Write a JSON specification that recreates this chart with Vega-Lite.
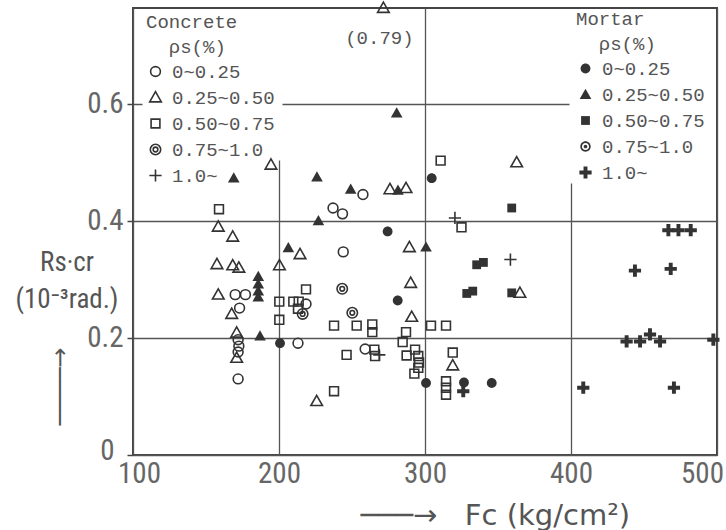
{
  "$schema": "https://vega.github.io/schema/vega-lite/v6.json",
  "width": 584,
  "height": 447,
  "autosize": "none",
  "padding": {"left": 133, "top": 8, "right": 9, "bottom": 75},
  "background": "white",
  "config": {
    "view": {"stroke": "#444", "strokeWidth": 2},
    "axis": {"labelFont": "Liberation Sans Narrow, Roboto Condensed, DejaVu Sans Condensed, sans-serif", "labelFontSize": 29, "labelColor": "#666", "titleFont": "DejaVu Sans", "titleColor": "#555", "titleFontWeight": "normal", "domain": false, "grid": true, "gridColor": "#555", "gridWidth": 1.3}
  },
  "title": {
    "text": ["Rs·cr", "(10⁻³rad.)"],
    "orient": "top",
    "anchor": "start",
    "frame": "group",
    "offset": 0,
    "dx": -66,
    "dy": 328,
    "align": "center",
    "baseline": "middle",
    "lineHeight": 37,
    "font": "Liberation Sans Narrow, Roboto Condensed, DejaVu Sans Condensed, sans-serif",
    "fontSize": 27,
    "fontWeight": "normal",
    "color": "#555"
  },
  "datasets": {
    "pts": [
      {"fc": 170, "r": 0.274, "t": "C", "rho": "0~0.25"},
      {"fc": 177, "r": 0.274, "t": "C", "rho": "0~0.25"},
      {"fc": 173, "r": 0.251, "t": "C", "rho": "0~0.25"},
      {"fc": 172, "r": 0.197, "t": "C", "rho": "0~0.25"},
      {"fc": 172.5, "r": 0.186, "t": "C", "rho": "0~0.25"},
      {"fc": 172, "r": 0.176, "t": "C", "rho": "0~0.25"},
      {"fc": 172, "r": 0.13, "t": "C", "rho": "0~0.25"},
      {"fc": 213, "r": 0.191, "t": "C", "rho": "0~0.25"},
      {"fc": 218.5, "r": 0.258, "t": "C", "rho": "0~0.25"},
      {"fc": 237, "r": 0.422, "t": "C", "rho": "0~0.25"},
      {"fc": 243.5, "r": 0.412, "t": "C", "rho": "0~0.25"},
      {"fc": 257.5, "r": 0.445, "t": "C", "rho": "0~0.25"},
      {"fc": 244, "r": 0.347, "t": "C", "rho": "0~0.25"},
      {"fc": 259, "r": 0.181, "t": "C", "rho": "0~0.25"},
      {"fc": 194.5, "r": 0.496, "t": "C", "rho": "0.25~0.50"},
      {"fc": 158.4, "r": 0.39, "t": "C", "rho": "0.25~0.50"},
      {"fc": 168.3, "r": 0.373, "t": "C", "rho": "0.25~0.50"},
      {"fc": 214.4, "r": 0.343, "t": "C", "rho": "0.25~0.50"},
      {"fc": 200.3, "r": 0.324, "t": "C", "rho": "0.25~0.50"},
      {"fc": 157.5, "r": 0.326, "t": "C", "rho": "0.25~0.50"},
      {"fc": 168.3, "r": 0.324, "t": "C", "rho": "0.25~0.50"},
      {"fc": 172.5, "r": 0.32, "t": "C", "rho": "0.25~0.50"},
      {"fc": 158.4, "r": 0.274, "t": "C", "rho": "0.25~0.50"},
      {"fc": 167.6, "r": 0.241, "t": "C", "rho": "0.25~0.50"},
      {"fc": 171, "r": 0.209, "t": "C", "rho": "0.25~0.50"},
      {"fc": 171, "r": 0.166, "t": "C", "rho": "0.25~0.50"},
      {"fc": 225.8, "r": 0.092, "t": "C", "rho": "0.25~0.50"},
      {"fc": 276, "r": 0.454, "t": "C", "rho": "0.25~0.50"},
      {"fc": 287, "r": 0.456, "t": "C", "rho": "0.25~0.50"},
      {"fc": 289.3, "r": 0.355, "t": "C", "rho": "0.25~0.50"},
      {"fc": 290.2, "r": 0.294, "t": "C", "rho": "0.25~0.50"},
      {"fc": 290.9, "r": 0.236, "t": "C", "rho": "0.25~0.50"},
      {"fc": 319, "r": 0.153, "t": "C", "rho": "0.25~0.50"},
      {"fc": 362.8, "r": 0.5, "t": "C", "rho": "0.25~0.50"},
      {"fc": 365, "r": 0.277, "t": "C", "rho": "0.25~0.50"},
      {"fc": 271.5, "r": 0.79, "t": "C", "rho": "0.25~0.50", "note": "(0.79)"},
      {"fc": 158.9, "r": 0.42, "t": "C", "rho": "0.50~0.75"},
      {"fc": 200.2, "r": 0.262, "t": "C", "rho": "0.50~0.75"},
      {"fc": 200.2, "r": 0.231, "t": "C", "rho": "0.50~0.75"},
      {"fc": 209.8, "r": 0.262, "t": "C", "rho": "0.50~0.75"},
      {"fc": 213.5, "r": 0.262, "t": "C", "rho": "0.50~0.75"},
      {"fc": 213, "r": 0.25, "t": "C", "rho": "0.50~0.75"},
      {"fc": 218.5, "r": 0.283, "t": "C", "rho": "0.50~0.75"},
      {"fc": 310.7, "r": 0.503, "t": "C", "rho": "0.50~0.75"},
      {"fc": 325, "r": 0.389, "t": "C", "rho": "0.50~0.75"},
      {"fc": 237.7, "r": 0.221, "t": "C", "rho": "0.50~0.75"},
      {"fc": 253.2, "r": 0.221, "t": "C", "rho": "0.50~0.75"},
      {"fc": 263.9, "r": 0.223, "t": "C", "rho": "0.50~0.75"},
      {"fc": 263.9, "r": 0.21, "t": "C", "rho": "0.50~0.75"},
      {"fc": 287, "r": 0.21, "t": "C", "rho": "0.50~0.75"},
      {"fc": 304.1, "r": 0.221, "t": "C", "rho": "0.50~0.75"},
      {"fc": 314.4, "r": 0.221, "t": "C", "rho": "0.50~0.75"},
      {"fc": 284.7, "r": 0.193, "t": "C", "rho": "0.50~0.75"},
      {"fc": 246.3, "r": 0.171, "t": "C", "rho": "0.50~0.75"},
      {"fc": 265.3, "r": 0.18, "t": "C", "rho": "0.50~0.75"},
      {"fc": 265.8, "r": 0.169, "t": "C", "rho": "0.50~0.75"},
      {"fc": 287.4, "r": 0.17, "t": "C", "rho": "0.50~0.75"},
      {"fc": 293.2, "r": 0.18, "t": "C", "rho": "0.50~0.75"},
      {"fc": 295.4, "r": 0.169, "t": "C", "rho": "0.50~0.75"},
      {"fc": 295.9, "r": 0.158, "t": "C", "rho": "0.50~0.75"},
      {"fc": 295.4, "r": 0.149, "t": "C", "rho": "0.50~0.75"},
      {"fc": 292.7, "r": 0.139, "t": "C", "rho": "0.50~0.75"},
      {"fc": 319, "r": 0.175, "t": "C", "rho": "0.50~0.75"},
      {"fc": 314.4, "r": 0.126, "t": "C", "rho": "0.50~0.75"},
      {"fc": 314.4, "r": 0.115, "t": "C", "rho": "0.50~0.75"},
      {"fc": 314.4, "r": 0.103, "t": "C", "rho": "0.50~0.75"},
      {"fc": 237.7, "r": 0.109, "t": "C", "rho": "0.50~0.75"},
      {"fc": 216.2, "r": 0.241, "t": "C", "rho": "0.75~1.0"},
      {"fc": 243.3, "r": 0.284, "t": "C", "rho": "0.75~1.0"},
      {"fc": 250.2, "r": 0.243, "t": "C", "rho": "0.75~1.0"},
      {"fc": 320.5, "r": 0.405, "t": "C", "rho": "1.0~"},
      {"fc": 268.7, "r": 0.171, "t": "C", "rho": "1.0~"},
      {"fc": 358.5, "r": 0.334, "t": "C", "rho": "1.0~"},
      {"fc": 200.7, "r": 0.191, "t": "M", "rho": "0~0.25"},
      {"fc": 304.6, "r": 0.473, "t": "M", "rho": "0~0.25"},
      {"fc": 274.4, "r": 0.382, "t": "M", "rho": "0~0.25"},
      {"fc": 281.3, "r": 0.264, "t": "M", "rho": "0~0.25"},
      {"fc": 300.7, "r": 0.123, "t": "M", "rho": "0~0.25"},
      {"fc": 326.7, "r": 0.124, "t": "M", "rho": "0~0.25"},
      {"fc": 345.7, "r": 0.123, "t": "M", "rho": "0~0.25"},
      {"fc": 169, "r": 0.473, "t": "M", "rho": "0.25~0.50"},
      {"fc": 226, "r": 0.475, "t": "M", "rho": "0.25~0.50"},
      {"fc": 227, "r": 0.4, "t": "M", "rho": "0.25~0.50"},
      {"fc": 206.4, "r": 0.354, "t": "M", "rho": "0.25~0.50"},
      {"fc": 185.8, "r": 0.305, "t": "M", "rho": "0.25~0.50"},
      {"fc": 185.8, "r": 0.292, "t": "M", "rho": "0.25~0.50"},
      {"fc": 185.8, "r": 0.28, "t": "M", "rho": "0.25~0.50"},
      {"fc": 185.8, "r": 0.27, "t": "M", "rho": "0.25~0.50"},
      {"fc": 187, "r": 0.203, "t": "M", "rho": "0.25~0.50"},
      {"fc": 280.6, "r": 0.584, "t": "M", "rho": "0.25~0.50"},
      {"fc": 249.1, "r": 0.454, "t": "M", "rho": "0.25~0.50"},
      {"fc": 281.5, "r": 0.452, "t": "M", "rho": "0.25~0.50"},
      {"fc": 300.7, "r": 0.355, "t": "M", "rho": "0.25~0.50"},
      {"fc": 359.4, "r": 0.422, "t": "M", "rho": "0.50~0.75"},
      {"fc": 335.4, "r": 0.325, "t": "M", "rho": "0.50~0.75"},
      {"fc": 340, "r": 0.329, "t": "M", "rho": "0.50~0.75"},
      {"fc": 328.6, "r": 0.276, "t": "M", "rho": "0.50~0.75"},
      {"fc": 332.7, "r": 0.28, "t": "M", "rho": "0.50~0.75"},
      {"fc": 359.4, "r": 0.277, "t": "M", "rho": "0.50~0.75"},
      {"fc": 466.7, "r": 0.384, "t": "M", "rho": "1.0~"},
      {"fc": 473.6, "r": 0.384, "t": "M", "rho": "1.0~"},
      {"fc": 482, "r": 0.384, "t": "M", "rho": "1.0~"},
      {"fc": 443.8, "r": 0.315, "t": "M", "rho": "1.0~"},
      {"fc": 468.3, "r": 0.318, "t": "M", "rho": "1.0~"},
      {"fc": 438.1, "r": 0.194, "t": "M", "rho": "1.0~"},
      {"fc": 447.3, "r": 0.194, "t": "M", "rho": "1.0~"},
      {"fc": 454.1, "r": 0.206, "t": "M", "rho": "1.0~"},
      {"fc": 461, "r": 0.194, "t": "M", "rho": "1.0~"},
      {"fc": 497.5, "r": 0.197, "t": "M", "rho": "1.0~"},
      {"fc": 408.4, "r": 0.115, "t": "M", "rho": "1.0~"},
      {"fc": 470.5, "r": 0.115, "t": "M", "rho": "1.0~"},
      {"fc": 326.2, "r": 0.109, "t": "M", "rho": "1.0~"}
    ]
  },
  "data": {"name": "pts"},
  "encoding": {
    "x": {
      "field": "fc", "type": "quantitative",
      "scale": {"domain": [100, 500], "nice": false, "zero": false},
      "axis": {
        "values": [100, 200, 300, 400, 500],
        "ticks": false,
        "labelFlush": false,
        "labelPadding": 4,
        "labelOffset": {"condition": [{"test": "datum.value === 500", "value": -15}, {"test": "datum.value === 100", "value": 6}], "value": 0},
        "gridDash": {"condition": [{"test": "datum.value === 200", "value": [0, 152, 1000, 0]}, {"test": "datum.value === 400", "value": [0, 175, 1000, 0]}], "value": []},
        "title": "───→\u00a0\u00a0\u00a0Fc (kg/cm²)",
        "titleFontSize": 29,
        "titleAlign": "left",
        "titleBaseline": "middle",
        "titleX": 227,
        "titleY": 60
      }
    },
    "y": {
      "field": "r", "type": "quantitative",
      "scale": {"domain": [0, 0.7637], "nice": false, "zero": false, "clamp": true},
      "axis": {
        "values": [0, 0.2, 0.4, 0.6],
        "format": "~g",
        "tickSize": 6,
        "tickColor": "#444",
        "tickWidth": 1.5,
        "labelPadding": {"condition": {"test": "datum.value === 0", "value": 13}, "value": 4},
        "labelOffset": {"condition": {"test": "datum.value === 0", "value": -5}, "value": 0},
        "gridDash": {"condition": {"test": "abs(datum.value - 0.6) < 0.01", "value": [9, 140, 287, 300]}, "value": []},
        "title": "────→",
        "titleFontSize": 24,
        "titleAngle": -90,
        "titleAlign": "center",
        "titleBaseline": "middle",
        "titleX": -73,
        "titleY": 378
      }
    }
  },
  "layer": [
    {
      "transform": [{"filter": "datum.t === 'C'"}],
      "mark": {"type": "point", "filled": false, "color": "#333", "strokeWidth": 1.6, "size": 150, "opacity": 1},
      "encoding": {
        "shape": {
          "field": "rho", "type": "nominal",
          "scale": {
            "domain": ["0~0.25", "0.25~0.50", "0.50~0.75", "0.75~1.0", "1.0~"],
            "range": [
              "M0.8,0A0.8,0.8,0,1,1,-0.8,0A0.8,0.8,0,1,1,0.8,0Z",
              "M0,-0.95L0.95,0.72L-0.95,0.72Z",
              "M-0.72,-0.72L0.72,-0.72L0.72,0.72L-0.72,0.72Z",
              "M0.85,0A0.85,0.85,0,1,1,-0.85,0A0.85,0.85,0,1,1,0.85,0ZM0.38,0A0.38,0.38,0,1,1,-0.38,0A0.38,0.38,0,1,1,0.38,0Z",
              "M-1,0L1,0M0,-1L0,1"
            ]
          },
          "legend": {
            "orient": "none", "legendX": 13, "legendY": 5, "padding": 0,
            "title": ["Concrete", "\u200b\u00a0\u00a0ρs(%)"],
            "titleFont": "Liberation Mono", "titleFontSize": 19, "titleFontWeight": "normal", "titleColor": "#555", "titleLineHeight": 25, "titlePadding": 5,
            "labelFont": "Liberation Mono", "labelFontSize": 19, "labelColor": "#555", "labelOffset": 7,
            "rowPadding": 6, "symbolSize": 150, "symbolStrokeWidth": 1.6, "symbolStrokeColor": "#333"
          }
        }
      }
    },
    {
      "transform": [{"filter": "datum.t === 'M'"}],
      "mark": {"type": "point", "filled": true, "color": "#333", "size": 150, "opacity": 1},
      "encoding": {
        "shape": {
          "field": "rho", "type": "nominal",
          "scale": {
            "domain": ["0~0.25", "0.25~0.50", "0.50~0.75", "0.75~1.0", "1.0~"],
            "range": [
              "M0.8,0A0.8,0.8,0,1,1,-0.8,0A0.8,0.8,0,1,1,0.8,0Z",
              "M0,-0.95L0.95,0.72L-0.95,0.72Z",
              "M-0.72,-0.72L0.72,-0.72L0.72,0.72L-0.72,0.72Z",
              "M0.85,0A0.85,0.85,0,1,1,-0.85,0A0.85,0.85,0,1,1,0.85,0ZM0.58,0A0.58,0.58,0,1,0,-0.58,0A0.58,0.58,0,1,0,0.58,0ZM0.3,0A0.3,0.3,0,1,1,-0.3,0A0.3,0.3,0,1,1,0.3,0Z",
              "M-0.32,-1L0.32,-1L0.32,-0.32L1,-0.32L1,0.32L0.32,0.32L0.32,1L-0.32,1L-0.32,0.32L-1,0.32L-1,-0.32L-0.32,-0.32Z"
            ]
          },
          "legend": {
            "orient": "none", "legendX": 443, "legendY": 2, "padding": 0,
            "title": ["Mortar", "\u200b\u00a0\u00a0ρs(%)"],
            "titleFont": "Liberation Mono", "titleFontSize": 19, "titleFontWeight": "normal", "titleColor": "#555", "titleLineHeight": 25, "titlePadding": 5,
            "labelFont": "Liberation Mono", "labelFontSize": 19, "labelColor": "#555", "labelOffset": 7,
            "rowPadding": 6, "symbolSize": 150, "symbolFillColor": "#333"
          }
        }
      }
    },
    {
      "transform": [{"filter": "datum.note"}],
      "mark": {"type": "text", "dx": -4, "dy": 30, "font": "Liberation Mono", "fontSize": 19, "color": "#555"},
      "encoding": {"text": {"field": "note"}}
    }
  ],
  "resolve": {"scale": {"shape": "independent"}, "legend": {"shape": "independent"}}
}
